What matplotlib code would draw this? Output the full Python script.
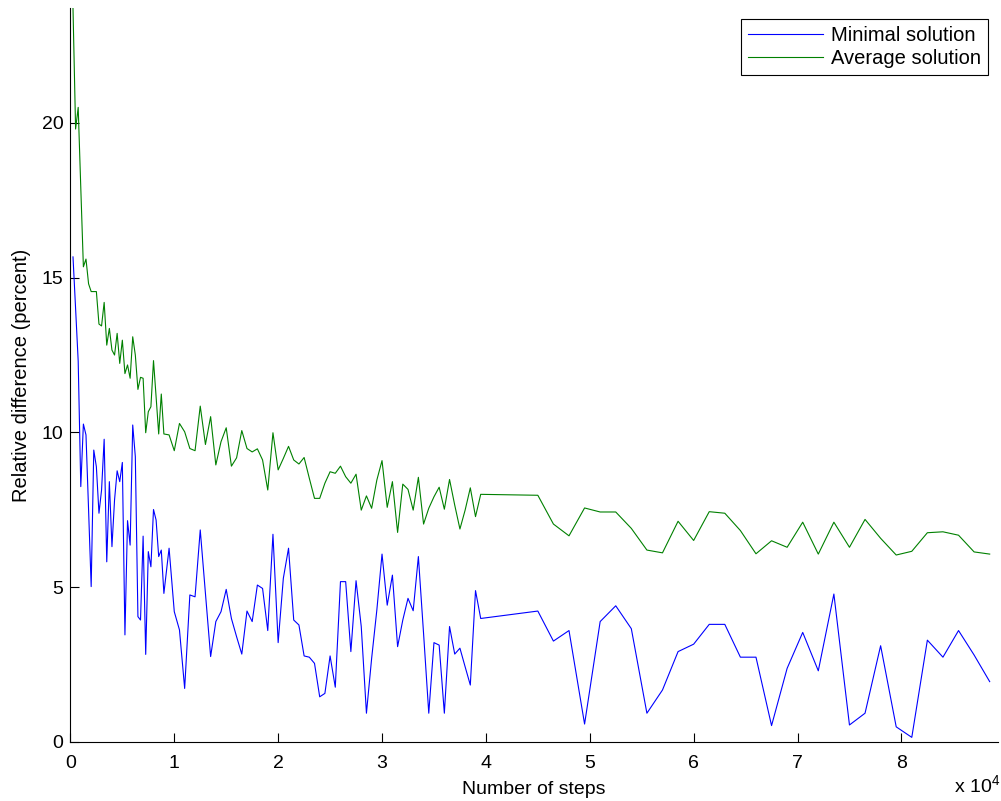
import numpy as np
import matplotlib
matplotlib.use("Agg")
import matplotlib.pyplot as plt
from matplotlib.ticker import FuncFormatter

plt.rcParams['font.family'] = ['Liberation Sans', 'DejaVu Sans']
plt.rcParams['mathtext.fontset'] = 'custom'
plt.rcParams['mathtext.rm'] = 'Liberation Sans'

# step grid: fine at the start, coarser later on
steps = np.concatenate([np.arange(250, 9001, 250),
                        np.arange(9500, 39501, 500),
                        np.arange(45000, 88501, 1500)])

# relative difference of the minimal solution (percent)
minimal = [15.67, 14.0, 12.3, 8.25, 10.27, 9.92, 7.5, 5.02, 9.43, 8.89,
           7.39, 8.14, 9.78, 5.82, 8.41, 6.31, 7.82, 8.76, 8.41, 9.03,
           3.46, 7.15, 6.36, 10.24, 9.22, 4.05, 3.94, 6.65, 2.83, 6.15,
           5.66, 7.51, 7.17, 5.99, 6.2, 4.8,
           6.26, 4.21, 3.62, 1.73, 4.75, 4.69, 6.85, 4.80, 2.76, 3.89,
           4.21, 4.93, 3.99, 3.40, 2.84, 4.23, 3.89, 5.07, 4.96, 3.60,
           6.71, 3.21, 5.29, 6.26, 3.94, 3.78, 2.78, 2.74, 2.54, 1.46,
           1.57, 2.78, 1.77, 5.18, 5.18, 2.92, 5.21, 3.73, 0.93, 2.70,
           4.26, 6.07, 4.42, 5.39, 3.08, 3.94, 4.64, 4.24, 5.99, 3.5,
           0.93, 3.21, 3.13, 0.93, 3.73, 2.84, 3.03, 2.43, 1.84, 4.89,
           3.99,
           4.23, 3.26, 3.60, 0.58, 3.89, 4.40, 3.66, 0.93, 1.68, 2.92,
           3.16, 3.80, 3.80, 2.74, 2.74, 0.53, 2.38, 3.54, 2.30, 4.78,
           0.55, 0.93, 3.11, 0.49, 0.15, 3.29, 2.74, 3.60, 2.81, 1.95]

# relative difference of the average solution (percent)
average = [23.7, 19.8, 20.5, 17.9, 15.35, 15.6, 14.8, 14.55, 14.55, 14.55,
           13.5, 13.44, 14.2, 12.82, 13.36, 12.66, 12.5, 13.2, 12.23, 12.98,
           11.9, 12.18, 11.75, 13.09, 12.5, 11.39, 11.78, 11.75, 9.99, 10.67,
           10.83, 12.32, 11.15, 9.95, 11.24, 9.95,
           9.92, 9.41, 10.29, 10.02, 9.48, 9.41, 10.85, 9.61, 10.51, 8.95,
           9.7, 10.15, 8.91, 9.18, 10.06, 9.48, 9.37, 9.47, 9.11, 8.14,
           9.99, 8.79, 9.16, 9.55, 9.11, 8.98, 9.19, 8.52, 7.87, 7.87,
           8.36, 8.73, 8.68, 8.91, 8.57, 8.36, 8.65, 7.49, 7.95, 7.55,
           8.46, 9.09, 7.58, 8.41, 6.77, 8.33, 8.16, 7.49, 8.55, 7.04,
           7.55, 7.92, 8.23, 7.52, 8.48, 7.65, 6.88, 7.49, 8.21, 7.28,
           8.0,
           7.97, 7.04, 6.66, 7.56, 7.43, 7.43, 6.90, 6.20, 6.11, 7.13,
           6.51, 7.44, 7.39, 6.83, 6.08, 6.50, 6.29, 7.10, 6.07, 7.10,
           6.29, 7.19, 6.58, 6.04, 6.16, 6.76, 6.79, 6.68, 6.14, 6.07]

fig = plt.figure(figsize=(10.01, 8.01), dpi=100)
ax = fig.add_axes([70.4/1001, 59/801, 927.6/1001, 734/801])

ax.plot(steps, minimal, color=(0, 0, 1), lw=0.8, label='Minimal solution')
ax.plot(steps, average, color=(0, 0.5, 0), lw=0.8, label='Average solution')

ax.set_xlim(0, 89300)
ax.set_ylim(0, 23.71)
ax.set_xticks(np.arange(0, 80001, 10000))
ax.set_yticks([0, 5, 10, 15, 20])
ax.xaxis.set_major_formatter(FuncFormatter(lambda v, p: f'{v/1e4:g}'))

for s in ['top', 'right']:
    ax.spines[s].set_visible(False)
for s in ['left', 'bottom']:
    ax.spines[s].set_color('black')
    ax.spines[s].set_linewidth(0.8)
ax.tick_params(direction='in', length=6.5, width=0.8, labelsize=14, color='black')
ax.tick_params(axis='y', pad=5)
ax.tick_params(axis='x', pad=9)

ax.set_xlabel('Number of steps', fontsize=14, labelpad=7)
ax.set_ylabel('Relative difference (percent)', fontsize=14.5, labelpad=8)
fig.text(0.999, 0.0187, r'x 10$^{4}$', fontsize=14, ha='right', va='center')

leg = ax.legend(loc='upper right', bbox_to_anchor=(0.989, 0.985), borderaxespad=0,
                fontsize=14.5, fancybox=False, framealpha=1, edgecolor='black',
                handlelength=3.7, handletextpad=0.4, borderpad=0.35, labelspacing=0.2)
leg.get_frame().set_linewidth(0.8)

fig.savefig('out.png', dpi=100)
